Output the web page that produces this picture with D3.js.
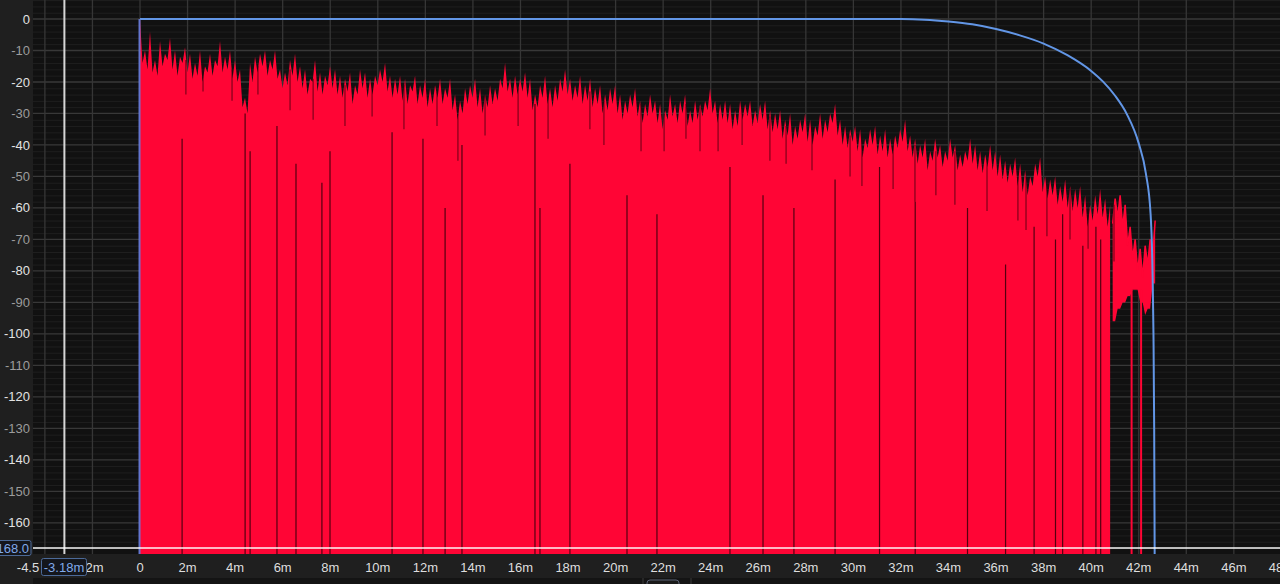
<!DOCTYPE html>
<html><head><meta charset="utf-8">
<script src="https://cdn.jsdelivr.net/npm/d3@7"></script>
<style>html,body{margin:0;padding:0;background:#1f1f1f;overflow:hidden}svg{display:block}</style>
</head><body><svg id="c" width="1280" height="584"></svg>
<script>
// ---------- data ----------
const yTickValues = [0,-10,-20,-30,-40,-50,-60,-70,-80,-90,-100,-110,-120,-130,-140,-150,-160];
const xTickValues = [-4.5,-2,0,2,4,6,8,10,12,14,16,18,20,22,24,26,28,30,32,34,36,38,40,42,44,46,48];
const xTickLabels = ["-4.5","-2m","0","2m","4m","6m","8m","10m","12m","14m","16m","18m","20m","22m","24m","26m","28m","30m","32m","34m","36m","38m","40m","42m","44m","46m","48m"];

// impulse response: peak values (dB), one every 0.21 ms from 0 ms
const envStartMs = 0, envStepMs = 0.2103;
const peakDb = [0,-10,-4,-13,-7,-11,-6,-10,-12,-9,-11,-14,-10,-15,-11,-13,-7,-12,-10,-13,
 -16,-25,-14,-12,-11,-10,-13,-10,-16,-17,-13,-11,-15,-16,-19,-13,-17,-18,-15,-16,
 -18,-19,-17,-21,-16,-17,-19,-18,-16,-14,-18,-19,-18,-19,-21,-18,-21,-19,-22,-21,
 -19,-22,-19,-24,-26,-22,-21,-19,-22,-24,-21,-22,-19,-14,-19,-18,-19,-17,-19,-24,
 -21,-18,-22,-21,-19,-16,-19,-21,-18,-21,-19,-22,-21,-24,-22,-21,-24,-26,-24,-22,
 -26,-27,-24,-26,-27,-29,-24,-27,-26,-24,-29,-26,-27,-26,-22,-26,-27,-26,-27,-29,
 -26,-27,-26,-29,-27,-26,-29,-30,-29,-32,-30,-34,-32,-30,-32,-34,-30,-32,-30,-27,
 -32,-34,-35,-34,-35,-38,-35,-34,-37,-35,-38,-37,-35,-32,-37,-38,-40,-38,-42,-38,
 -40,-42,-38,-40,-43,-42,-38,-40,-42,-43,-40,-42,-43,-45,-46,-44,-46,-48,-50,-46,
 -44,-50,-51,-50,-53,-51,-53,-54,-53,-56,-59,-56,-54,-57,-59,-57,-56,-59,-66,-70,
 -73,-72,-70,-64];
// valley between consecutive peaks (dB)
const valleyDb = [-14,-16,-17,-18,-15,-13,-16,-18,-14,-17,-19,-18,-20,-17,-18,-15,-17,-16,-19,-20,
 -28,-30,-20,-17,-15,-18,-16,-19,-22,-21,-18,-20,-22,-24,-20,-23,-24,-21,-22,-24,
 -25,-23,-27,-24,-22,-25,-24,-21,-20,-23,-25,-24,-26,-27,-23,-27,-25,-28,-27,-25,
 -27,-25,-29,-32,-30,-27,-25,-28,-30,-28,-27,-26,-22,-23,-25,-24,-23,-25,-29,-28,
 -25,-27,-28,-26,-23,-24,-26,-25,-27,-26,-28,-27,-30,-29,-27,-30,-32,-30,-28,-31,
 -33,-31,-30,-33,-35,-32,-31,-33,-30,-34,-33,-32,-31,-29,-30,-33,-32,-33,-35,-34,
 -32,-31,-34,-33,-32,-35,-36,-35,-38,-37,-40,-38,-36,-39,-40,-37,-38,-36,-33,-37,
 -40,-41,-39,-42,-44,-41,-40,-43,-42,-44,-43,-41,-39,-42,-44,-46,-44,-48,-45,-44,
 -47,-45,-44,-48,-47,-45,-46,-48,-49,-47,-48,-50,-51,-52,-50,-53,-55,-56,-53,-50,
 -55,-57,-56,-59,-58,-60,-61,-60,-63,-66,-64,-62,-63,-66,-65,-63,-66,-72,-76,-80,
 -82,-78,-75];
// lower edge of the trace in the tail (from peak index 194 on)
const tailStartIndex = 194;
const tailFloorDb = [-168,-96,-92,-90,-88,-86,-90,-94,-92,-84];
// thin traces reaching the bottom in the tail (ms)
const tailSpikeMs = [41.7, 42.1];

// long dark gaps inside the trace: time (ms) and top of gap (dB)
const gapMs =    [1.77,4.42,4.63,5.76,6.56,7.65,7.99,10.6,11.9,12.83,13.54,16.61,16.82,18.08,20.48,21.74,24.81,26.2,27.5,29.23,31.1,32.6,34.8,36.4,37.6,38.5,38.8,39.65,40.2,40.4];
const gapTopDb = [-38, -30, -42, -34, -46, -52, -42, -36, -38, -60,  -40,  -27,  -60,  -46,  -56,  -62,  -47, -56, -60, -51, -47,-58,-60,-78,-66,-70,-62,-72,-66,-70];

// short dark streaks near the top of the trace: time (ms), top (dB), bottom (dB)
const streakMs =     [1.93,2.65,3.87,4.96,6.31,7.28,8.62,9.76,11.10,12.49,13.37,14.51,15.90,17.16,18.92,19.51,21.07,22.04,22.96,23.55,24.31,25.32,26.49,27.17,28.26,29.86,30.36,31.67,32.59,33.47,34.27,35.62,36.92,37.26,38.14,39.11,39.87,40.96];
const streakTopDb =  [-13,-14,-16,-15,-16,-19,-21,-20,-21,-23,-26,-24,-22,-24,-23,-26,-27,-30,-27,-28,-29,-29,-31,-34,-34,-37,-38,-38,-40,-42,-42,-45,-48,-50,-51,-54,-58,-59];
const streakBotDb =  [-24,-23,-26,-24,-29,-32,-34,-31,-35,-34,-45,-37,-34,-38,-35,-40,-42,-42,-38,-42,-42,-40,-45,-46,-48,-50,-53,-54,-58,-56,-59,-61,-64,-67,-69,-70,-73,-77];

// window (blue) taper points, ms / dB
const windowMs = [0,32,33,34,35,36,37,38,39,40,40.5,41,41.5,42,42.3,42.5,42.58,42.62,42.65,42.67];
const windowDb = [0,0,-0.2,-0.8,-1.7,-3.2,-5.2,-7.8,-11.5,-16.5,-19.9,-24.3,-30.2,-39.5,-49,-62,-80,-100,-130,-170];

const cursorMs = -3.18, cursorDb = -168;

// ---------- drawing ----------
const svg = d3.select("#c");
const W = 1280, H = 584;
const plotL = 33, plotR = 1280, plotT = 0, plotB = 554;
const x = d3.scaleLinear().domain([-4.5, 48]).range([33, 1281.4]);
const y = d3.scaleLinear().domain([-168, 0]).range([548, 19]);
const bottomDb = y.invert(plotB);
const RED = "#ff0535";

svg.append("rect").attr("width", W).attr("height", H).attr("fill", "#1f1f1f");
svg.append("rect").attr("x", plotL).attr("y", plotT).attr("width", plotR - plotL).attr("height", plotB - plotT).attr("fill", "#111111");

svg.append("defs").append("clipPath").attr("id", "pc").append("rect")
  .attr("x", plotL).attr("y", plotT).attr("width", plotR - plotL).attr("height", plotB - plotT);
const g = svg.append("g").attr("clip-path", "url(#pc)");

// minor horizontal grid (every 2 dB)
const minorY = d3.range(-170, 7, 2).filter(v => v % 10 !== 0);
g.selectAll(".hmin").data(minorY).enter().append("line")
  .attr("x1", plotL).attr("x2", plotR).attr("y1", d => y(d) + 0.5).attr("y2", d => y(d) + 0.5)
  .attr("stroke", "#1f1f1f").attr("stroke-width", 1);
// major horizontal grid (every 10 dB)
const majorY = d3.range(-160, 1, 10);
g.selectAll(".hmaj").data(majorY).enter().append("line")
  .attr("x1", plotL).attr("x2", plotR).attr("y1", d => y(d)).attr("y2", d => y(d))
  .attr("stroke", "#383838").attr("stroke-width", 1.3);
// vertical grid (every 2 ms)
const gridX = d3.range(-4, 49, 2);
g.selectAll(".vg").data(gridX).enter().append("line")
  .attr("x1", d => x(d)).attr("x2", d => x(d)).attr("y1", plotT).attr("y2", plotB)
  .attr("stroke", "#363636").attr("stroke-width", 1.3);

// impulse trace: peaks and valleys interleaved
const pts = [];
peakDb.forEach((v, i) => {
  const t = envStartMs + i * envStepMs;
  const fl = i >= tailStartIndex ? tailFloorDb[i - tailStartIndex] : bottomDb;
  pts.push({t: t, top: v, floor: fl, i: i});
  if (i < valleyDb.length) {
    const fl2 = (i + 1) >= tailStartIndex + 1 ? Math.max(fl, tailFloorDb[i + 1 - tailStartIndex]) : bottomDb;
    pts.push({t: t + envStepMs / 2, top: valleyDb[i], floor: Math.min(fl2, valleyDb[i] - 4), i: i + 0.5});
  }
});
const area = d3.area().x(d => x(d.t)).y0(d => y(d.floor)).y1(d => y(d.top));
const mainPts = pts.filter(d => d.i <= tailStartIndex).map(d => Object.assign({}, d, {floor: bottomDb}));
const tailPts = pts.filter(d => d.i >= tailStartIndex + 0.5);
g.append("path").datum(mainPts).attr("d", area).attr("fill", RED);
g.append("path").datum(tailPts).attr("d", area).attr("fill", RED);
g.append("path").datum(tailPts).attr("d", d3.line().x(d => x(d.t)).y(d => y(d.top)))
  .attr("fill", "none").attr("stroke", RED).attr("stroke-width", 1.5);
g.selectAll(".tsp").data(tailSpikeMs).enter().append("line")
  .attr("x1", d => x(d)).attr("x2", d => x(d)).attr("y1", y(-86)).attr("y2", plotB)
  .attr("stroke", RED).attr("stroke-width", 2);

// dark gaps
g.selectAll(".gap").data(gapMs).enter().append("line")
  .attr("x1", d => x(d)).attr("x2", d => x(d))
  .attr("y1", (d, i) => y(gapTopDb[i])).attr("y2", plotB)
  .attr("stroke", "#2a0008").attr("stroke-width", 1.2).attr("opacity", 0.8);
g.selectAll(".streak").data(streakMs).enter().append("line")
  .attr("x1", d => x(d)).attr("x2", d => x(d))
  .attr("y1", (d, i) => y(streakTopDb[i])).attr("y2", (d, i) => y(streakBotDb[i]))
  .attr("stroke", "#3a000c").attr("stroke-width", 1.1).attr("opacity", 0.7);

// window curve
const winPts = windowMs.map((t, i) => [t, windowDb[i]]);
g.append("path").datum(winPts)
  .attr("d", d3.line().x(d => x(d[0])).y(d => y(d[1])).curve(d3.curveMonotoneX))
  .attr("fill", "none").attr("stroke", "#6296e6").attr("stroke-width", 2);
g.append("line").attr("x1", x(0) - 0.5).attr("x2", x(0) - 0.5).attr("y1", y(0)).attr("y2", plotB)
  .attr("stroke", "#6a7fe0").attr("stroke-width", 2).attr("opacity", 0.9);

// cursors
g.append("line").attr("x1", x(cursorMs)).attr("x2", x(cursorMs)).attr("y1", plotT).attr("y2", plotB)
  .attr("stroke", "#d6d6d6").attr("stroke-width", 2);
g.append("line").attr("x1", plotL).attr("x2", plotR).attr("y1", y(cursorDb)).attr("y2", y(cursorDb))
  .attr("stroke", "#ffffff").attr("stroke-opacity", 0.72).attr("stroke-width", 2);

// y labels
const font = "Liberation Sans, Arial, sans-serif";
svg.selectAll(".yl").data(yTickValues).enter().append("text")
  .attr("x", 30).attr("y", d => y(d)).attr("dy", "0.35em").attr("text-anchor", "end")
  .attr("font-family", font).attr("font-size", 13)
  .attr("fill", d => (d % 20 === 0) ? "#e2e2e2" : "#9c9c9c")
  .text(d => d);

// x labels
svg.selectAll(".xl").data(xTickValues).enter().append("text")
  .attr("x", (d, i) => i === 0 ? 28 : x(d)).attr("y", 567).attr("dy", "0.35em").attr("text-anchor", "middle")
  .attr("font-family", font).attr("font-size", 13)
  .attr("fill", "#dedede")
  .text((d, i) => xTickLabels[i]);

// bottom scroll strip
svg.append("rect").attr("x", plotL).attr("y", 578).attr("width", plotR - plotL).attr("height", 6).attr("fill", "#141414");
svg.append("line").attr("x1", 643).attr("x2", 643).attr("y1", 578).attr("y2", 584).attr("stroke", "#3a3a3a");
svg.append("line").attr("x1", 691).attr("x2", 691).attr("y1", 578).attr("y2", 584).attr("stroke", "#3a3a3a");
svg.append("rect").attr("x", 647).attr("y", 580).attr("width", 32).attr("height", 8).attr("rx", 3)
  .attr("fill", "#1a1a1a").attr("stroke", "#5a6274").attr("stroke-width", 1);

// cursor readout boxes
svg.append("rect").attr("x", -4).attr("y", 540.5).attr("width", 35).attr("height", 15).attr("rx", 2)
  .attr("fill", "#14161c").attr("stroke", "#4c6a98").attr("stroke-width", 1);
svg.append("text").attr("x", 29).attr("y", 548).attr("dy", "0.35em").attr("text-anchor", "end")
  .attr("font-family", font).attr("font-size", 13).attr("fill", "#80a9ea").text(cursorDb.toFixed(1));
svg.append("rect").attr("x", 41.5).attr("y", 558.5).attr("width", 45).attr("height", 17).attr("rx", 2)
  .attr("fill", "#14161c").attr("stroke", "#4c6a98").attr("stroke-width", 1);
svg.append("text").attr("x", 64).attr("y", 567).attr("dy", "0.35em").attr("text-anchor", "middle")
  .attr("font-family", font).attr("font-size", 13).attr("fill", "#80a9ea").text(cursorMs.toFixed(2) + "m");
</script></body></html>
